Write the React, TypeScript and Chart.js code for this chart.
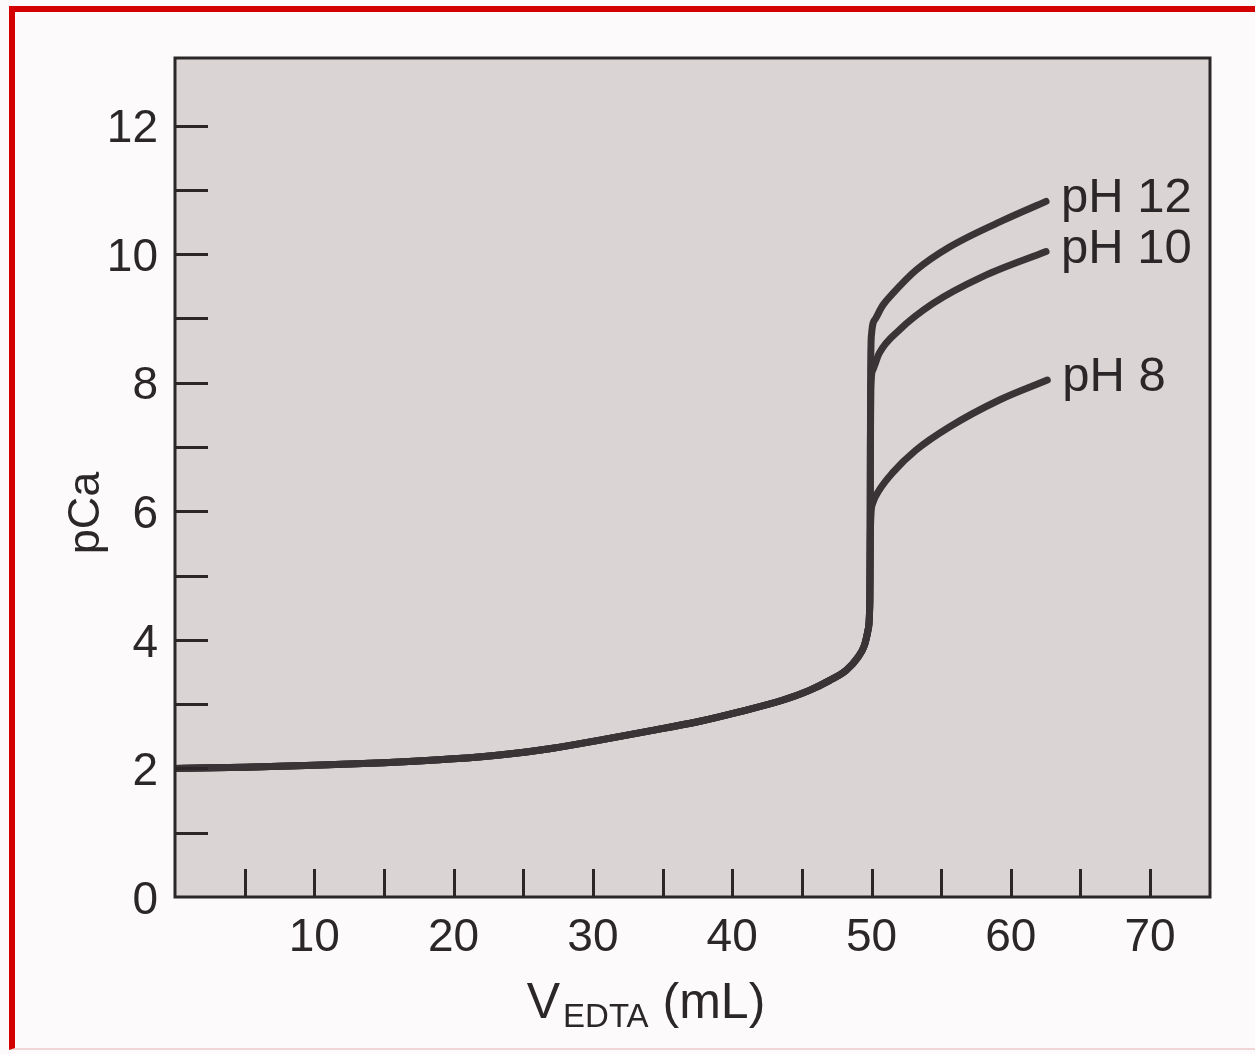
import React, { useEffect, useRef } from 'react';
import { Chart, registerables } from 'chart.js';

Chart.register(...registerables);

// Common part of the titration curve (before the equivalence point)
const commonV = [0, 5, 10, 15, 20, 23.3, 27, 30.5, 34, 37.6, 40.5, 43.6, 45.5, 47.0, 48.2, 49.0, 49.5, 49.75, 49.88];
const commonPCa = [2.0, 2.02, 2.05, 2.09, 2.15, 2.21, 2.31, 2.44, 2.58, 2.73, 2.88, 3.06, 3.21, 3.37, 3.53, 3.72, 3.92, 4.15, 4.6];

// Branches after the equivalence point
const ph8V = [49.9, 49.95, 50.08, 50.56, 51.52, 53.19, 55.59, 59.18, 62.62];
const ph8PCa = [5.3, 5.9, 6.12, 6.33, 6.6, 6.95, 7.31, 7.73, 8.04];

const ph10V = [49.9, 49.92, 49.95, 50.1, 50.56, 52.0, 54.39, 57.98, 62.53];
const ph10PCa = [5.3, 7.0, 7.9, 8.2, 8.46, 8.82, 9.23, 9.65, 10.04];

const ph12V = [49.9, 49.92, 49.94, 50.0, 50.3, 50.8, 51.5, 53.2, 55.6, 59.4, 62.53];
const ph12PCa = [5.3, 7.0, 8.2, 8.75, 9.0, 9.2, 9.38, 9.75, 10.11, 10.52, 10.82];

const seriesLabels = ['pH 8', 'pH 10', 'pH 12'];
const xTickLabels = [10, 20, 30, 40, 50, 60, 70];
const yTickLabels = [0, 2, 4, 6, 8, 10, 12];
const xAxisMain = 'V';
const xAxisSub = 'EDTA';
const xAxisUnit = ' (mL)';
const yAxisTitle = 'pCa';

const FONT = '"Liberation Sans", Arial, Helvetica, sans-serif';
const INK = '#2b2728';
const LINE = '#3a3436';
const PLOT_BG = '#dbd4d5';

function toPoints(xs: number[], ys: number[]) {
  return xs.map((x, i) => ({ x, y: ys[i] }));
}

const decor = {
  id: 'decor',
  beforeDraw(chart: any) {
    const { ctx, chartArea } = chart;
    const { left, top, right, bottom } = chartArea;
    ctx.save();
    ctx.fillStyle = PLOT_BG;
    ctx.fillRect(left, top, right - left, bottom - top);
    ctx.restore();
  },
  afterDatasetsDraw(chart: any) {
    const { ctx, chartArea } = chart;
    const { left, top, right, bottom } = chartArea;
    const xs = chart.scales.x;
    const ys = chart.scales.y;
    ctx.save();
    ctx.strokeStyle = INK;
    ctx.lineWidth = 3;
    ys.ticks.forEach((t: any) => {
      if (t.value > 0 && t.value < Math.floor(ys.max) && Number.isInteger(t.value)) {
        const py = Math.round(ys.getPixelForValue(t.value)) + 0.5;
        ctx.beginPath();
        ctx.moveTo(left, py);
        ctx.lineTo(left + 33, py);
        ctx.stroke();
      }
    });
    xs.ticks.forEach((t: any) => {
      if (t.value > 0 && t.value % 5 === 0 && t.value < xs.max) {
        const px = Math.round(xs.getPixelForValue(t.value)) + 0.5;
        ctx.beginPath();
        ctx.moveTo(px, bottom);
        ctx.lineTo(px, bottom - 28);
        ctx.stroke();
      }
    });
    ctx.strokeRect(left, top, right - left, bottom - top);

    // series labels at the end of each curve
    ctx.fillStyle = INK;
    ctx.font = `49px ${FONT}`;
    ctx.textAlign = 'left';
    ctx.textBaseline = 'alphabetic';
    chart.data.datasets.forEach((ds: any, i: number) => {
      const meta = chart.getDatasetMeta(i);
      const last = meta.data[meta.data.length - 1];
      if (!last) return;
      ctx.fillText(ds.label, last.x + 15, last.y + 11);
    });

    // y axis title
    ctx.save();
    ctx.font = `45px ${FONT}`;
    ctx.translate(99, 513);
    ctx.rotate(-Math.PI / 2);
    ctx.textAlign = 'center';
    ctx.textBaseline = 'alphabetic';
    ctx.fillText(yAxisTitle, 0, 0);
    ctx.restore();

    // x axis title with subscript
    const bigFont = `50px ${FONT}`;
    const smallFont = `33px ${FONT}`;
    ctx.font = bigFont;
    const wV = ctx.measureText(xAxisMain).width;
    const wU = ctx.measureText(xAxisUnit).width;
    ctx.font = smallFont;
    const wS = ctx.measureText(xAxisSub).width;
    const gap = 3;
    const total = wV + gap + wS + wU;
    let cx = 646 - total / 2;
    const base = 1018;
    ctx.textAlign = 'left';
    ctx.font = bigFont;
    ctx.fillText(xAxisMain, cx, base);
    cx += wV + gap;
    ctx.font = smallFont;
    ctx.fillText(xAxisSub, cx, base + 9);
    cx += wS;
    ctx.font = bigFont;
    ctx.fillText(xAxisUnit, cx, base);
    ctx.restore();
  },
};

export default function App() {
  const canvasRef = useRef<HTMLCanvasElement | null>(null);

  useEffect(() => {
    const canvas = canvasRef.current;
    if (!canvas) return;
    const lineStyle = {
      borderColor: LINE,
      borderWidth: 7,
      pointRadius: 0,
      fill: false,
      cubicInterpolationMode: 'monotone' as const,
      borderCapStyle: 'round' as const,
      borderJoinStyle: 'round' as const,
    };
    const chart = new Chart(canvas, {
      type: 'line',
      data: {
        datasets: [
          { label: seriesLabels[0], data: toPoints([...commonV, ...ph8V], [...commonPCa, ...ph8PCa]), ...lineStyle },
          { label: seriesLabels[1], data: toPoints([...commonV, ...ph10V], [...commonPCa, ...ph10PCa]), ...lineStyle },
          { label: seriesLabels[2], data: toPoints([...commonV, ...ph12V], [...commonPCa, ...ph12PCa]), ...lineStyle },
        ],
      },
      options: {
        responsive: false,
        animation: false,
        devicePixelRatio: 1,
        layout: { padding: { top: 58, right: 45, left: 0, bottom: 0 } },
        plugins: {
          legend: { display: false },
          tooltip: { enabled: false },
        },
        scales: {
          x: {
            type: 'linear',
            min: 0,
            max: 74.3,
            grid: { display: false, drawTicks: false },
            border: { display: false },
            afterFit: (s: any) => {
              s.height = 157;
            },
            ticks: {
              stepSize: 5,
              includeBounds: false,
              autoSkip: false,
              maxRotation: 0,
              padding: 14,
              color: INK,
              font: { family: FONT, size: 46 },
              callback: (v: any) => (xTickLabels.includes(Number(v)) ? String(v) : ''),
            },
          },
          y: {
            type: 'linear',
            min: 0,
            max: 13.05,
            grid: { display: false, drawTicks: false },
            border: { display: false },
            afterFit: (s: any) => {
              s.width = 175;
            },
            ticks: {
              stepSize: 1,
              includeBounds: false,
              autoSkip: false,
              padding: 17,
              labelOffset: 4,
              color: INK,
              font: { family: FONT, size: 46 },
              callback: (v: any) => (yTickLabels.includes(Number(v)) ? String(v) : ''),
            },
          },
        },
      },
      plugins: [decor],
    } as any);
    return () => chart.destroy();
  }, []);

  return (
    <div style={{ position: 'absolute', left: 0, top: 0, width: 1255, height: 1054, background: '#fcfafa', overflow: 'hidden' }}>
      <canvas ref={canvasRef} width={1255} height={1054} style={{ position: 'absolute', left: 0, top: 0, display: 'block' }} />
      <div
        style={{
          position: 'absolute',
          left: 9,
          top: 6,
          width: 1246,
          height: 1044,
          borderLeft: '6px solid #d40000',
          borderTop: '6px solid #d40000',
          borderBottom: '2px solid #f0d6d6',
          boxSizing: 'border-box',
          pointerEvents: 'none',
        }}
      />
    </div>
  );
}
